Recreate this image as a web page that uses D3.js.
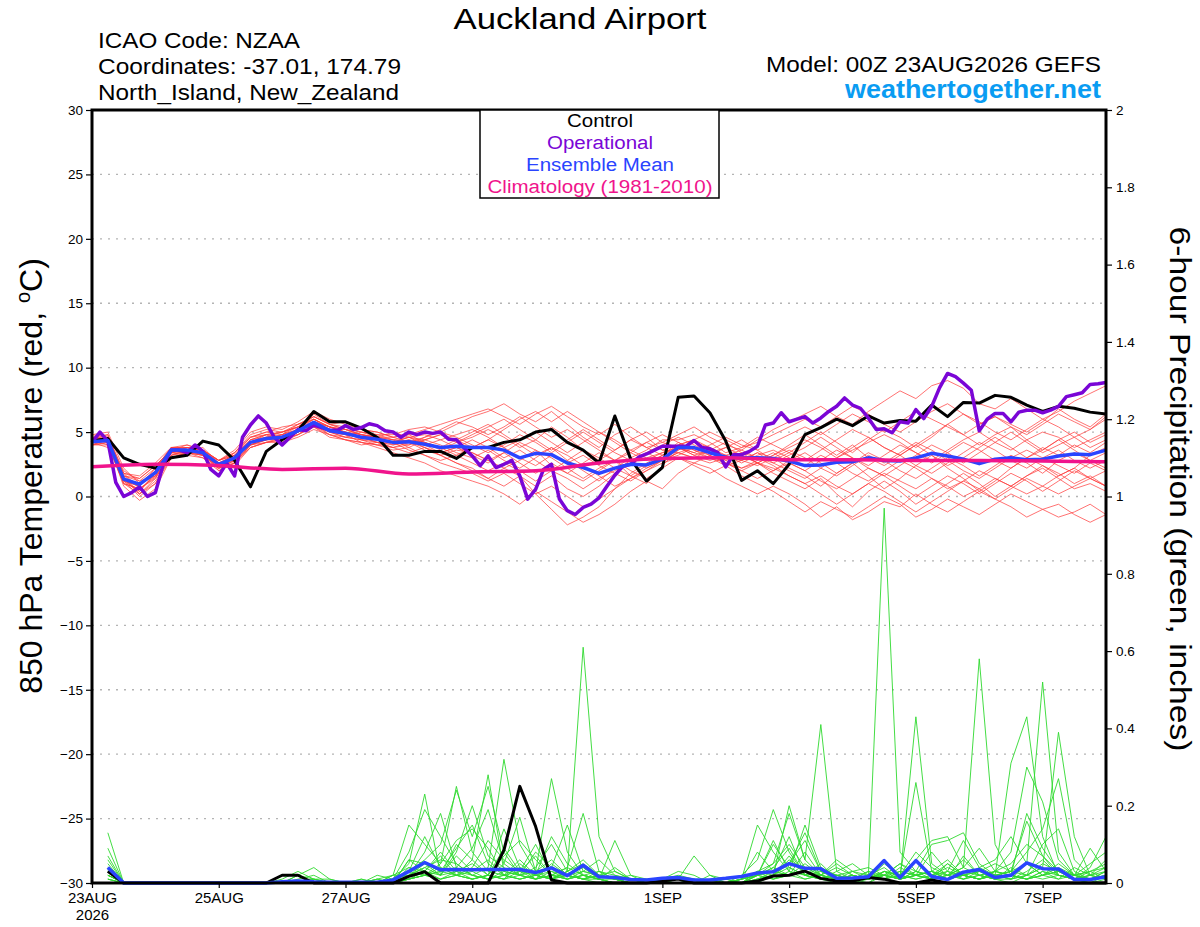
<!DOCTYPE html>
<html>
<head>
<meta charset="utf-8">
<script src="https://cdn.jsdelivr.net/npm/d3@7"></script>
<style>
  body { margin: 0; background: #fff; }
  text { font-family: "Liberation Sans", Arial, Helvetica, sans-serif; }
</style>
</head>
<body>
<div id="canvas"></div>
<script>
// ---- data (6-hourly steps from 00Z 23AUG2026, 0..384 h) ----
const tickDays = ["2026-08-23", "2026-08-25", "2026-08-27", "2026-08-29", "2026-09-01", "2026-09-03", "2026-09-05", "2026-09-07"];
const tickLabels = ["23AUG", "25AUG", "27AUG", "29AUG", "1SEP", "3SEP", "5SEP", "7SEP"];
const tempTicks = [-30, -25, -20, -15, -10, -5, 0, 5, 10, 15, 20, 25, 30];
const precipTicks = [0, 0.2, 0.4, 0.6, 0.8, 1, 1.2, 1.4, 1.6, 1.8, 2];
const legendItems = ["Control", "Operational", "Ensemble Mean", "Climatology (1981-2010)"];

// ensemble members, 850 hPa temperature (65 values each)
const tempMembers = [
  [4.4,4.8,1.8,0.6,1.5,3.4,3.8,3.6,2.8,3.4, 4.6,5.0,5.4,5.6,6.2,5.6,5.8,5.2,5.0,4.6,4.8,5.2,5.6,6.0,6.4, 6.8,6.2,5.6,6.4,7.0,6.2,5.4,4.8,5.6,4.6,3.8,4.2, 4.8,5.4,4.6,4.0,3.6,4.4,5.2,5.8, 6.4,7.0,6.2,5.6,6.6,7.4,8.2,7.6,8.6,9.0,8.4,7.2,6.8,7.6,6.8,6.0,6.6,7.4,8.0,8.6],
  [4.0,4.2,0.8,-0.3,0.6,3.0,3.4,3.2,2.2,2.4, 3.8,4.2,4.4,5.0,5.6,4.8,4.4,4.2,3.8,3.4,3.0,2.6,2.0,1.6,1.2, 0.8,0.2,-0.6,0.4,-0.4,-1.2,-2.0,-1.4,-0.6,0.4,1.2,0.6, 1.8,2.6,2.2,1.4,0.8,0.2,0.8,0.2, -0.6,-1.6,-0.8,-1.8,-1.2,-0.4,-0.8,0.2,-0.6,-1.2,-0.4,0.4,-0.2,-0.8,-1.6,-1.0,-0.6,-1.4,-2.0,-1.4],
  [4.6,4.4,1.2,0.8,2.0,3.8,3.4,3.2,2.6,3.0, 4.0,4.6,4.8,5.2,5.8,5.4,5.0,4.4,4.0,4.2,4.6,4.0,3.4,3.8,3.2, 2.6,3.4,4.2,3.6,2.4,1.8,2.6,3.4,2.8,1.6,1.0,2.4, 3.6,4.2,3.8,3.0,2.8,3.4,3.0,2.2, 1.6,0.8,1.8,2.6,1.6,0.6,1.4,2.4,3.2,2.2,1.4,0.4,1.2,2.2,3.0,2.4,1.6,2.2,3.2,3.8],
  [4.2,3.8,1.6,1.4,2.4,3.6,4.0,3.6,2.0,2.6, 4.4,4.8,4.2,4.8,5.4,5.0,4.6,5.0,4.8,4.4,3.8,4.4,4.8,4.2,4.6, 5.2,4.6,3.8,4.4,5.4,4.6,3.6,2.8,3.6,4.4,3.8,3.2, 4.2,3.6,3.2,3.8,4.4,3.6,2.8,3.4, 4.2,5.0,4.2,3.4,4.4,5.2,4.6,3.8,4.6,5.6,4.8,4.0,4.8,5.4,4.4,3.6,4.4,5.0,4.2,4.8],
  [4.4,4.6,1.0,0.2,1.2,3.2,3.6,3.8,2.6,3.2, 4.2,4.4,4.8,5.4,6.0,5.2,5.0,4.8,4.6,4.0,4.4,3.8,3.2,2.6,2.2, 1.4,0.8,1.6,0.2,-1.0,-2.2,-1.6,-0.8,0.6,1.8,2.6,3.2, 3.8,3.2,3.6,2.8,2.2,2.6,1.8,1.2, 0.6,1.4,0.2,-0.8,0.4,1.2,0.4,-0.6,0.2,1.0,1.8,1.0,0.0,0.8,1.6,2.2,1.4,0.6,1.0,0.4],
  [4.8,5.0,2.2,1.0,1.6,3.8,3.8,3.4,2.4,3.4, 4.8,5.2,5.0,5.4,6.4,5.6,5.2,4.8,4.6,5.0,4.6,4.2,3.8,4.4,5.0, 5.6,4.8,4.0,3.2,3.8,2.8,2.0,1.2,2.2,3.0,3.6,4.4, 4.4,4.8,4.2,3.4,3.8,4.6,4.0,3.4, 2.8,3.6,4.4,5.2,4.6,3.8,3.2,4.0,4.8,5.6,6.4,5.8,5.0,4.4,5.2,6.0,5.4,4.6,5.2,6.2],
  [4.0,4.4,1.4,0.4,1.8,3.4,3.2,3.0,2.2,2.8, 3.8,4.2,4.6,4.8,5.6,5.0,4.8,4.2,4.0,3.8,4.0,4.4,4.0,3.4,3.0, 3.6,2.8,2.2,3.0,3.8,3.2,2.4,1.6,0.8,1.4,2.2,2.8, 3.2,3.8,3.4,2.8,3.2,2.6,2.0,2.8, 3.4,2.6,1.8,2.6,3.4,2.8,2.0,1.4,2.2,3.0,2.4,1.6,2.4,3.2,2.6,1.8,2.8,3.4,2.8,2.2],
  [4.2,4.6,1.2,0.8,2.2,3.8,3.6,3.4,2.8,3.2, 4.4,4.8,5.0,5.6,6.0,5.4,5.2,5.0,4.8,4.8,5.2,5.4,5.0,5.6,6.2, 6.6,7.2,6.4,5.8,6.6,5.6,4.6,3.8,4.8,5.4,4.6,3.6, 3.4,3.0,3.6,4.2,3.4,2.6,3.2,4.0, 4.8,4.0,3.2,4.0,3.0,2.4,3.2,4.0,3.2,2.4,3.0,3.8,4.6,3.8,3.0,3.6,4.4,3.6,2.8,3.4],
  [4.6,4.2,1.6,1.2,1.6,3.6,3.8,3.6,2.4,2.8, 4.0,4.4,4.4,4.8,5.4,4.8,4.6,4.4,4.2,4.0,4.2,3.6,3.2,3.6,3.4, 2.8,2.2,2.8,3.6,3.0,2.2,1.4,2.2,2.8,3.6,3.0,3.4, 3.8,3.2,2.8,3.2,2.6,3.2,3.6,3.0, 2.4,3.2,2.6,1.8,1.2,2.0,2.8,2.2,1.4,0.6,1.2,2.0,1.4,0.8,1.6,2.4,1.8,1.0,1.6,0.8],
  [4.4,4.0,1.0,0.6,1.4,3.4,3.4,3.2,2.4,3.0, 4.2,4.6,4.6,5.0,5.8,5.2,4.8,4.6,4.2,4.2,3.6,3.2,2.6,2.2,1.8, 1.2,1.8,1.0,0.2,0.8,0.0,-0.8,-0.2,0.6,1.4,2.0,2.6, 3.0,2.4,1.8,2.4,1.6,1.0,0.4,-0.4, -1.2,-0.4,-1.0,-1.6,-0.8,0.0,-0.6,-1.6,-1.0,-0.2,-0.8,-1.4,-0.6,0.2,-0.4,-1.0,-1.6,-1.2,-0.6,-1.4],
  [4.2,4.4,1.8,1.6,2.6,3.8,3.6,3.4,2.6,2.6, 3.8,4.2,4.4,5.0,5.8,5.4,5.0,4.6,4.6,4.4,4.6,4.8,4.4,4.8,5.2, 4.6,3.8,4.4,5.0,4.2,3.4,4.2,5.0,4.4,3.6,4.2,4.8, 4.2,3.6,3.0,2.6,2.2,2.8,3.4,2.6, 2.0,2.8,3.6,3.0,2.2,1.6,2.4,3.2,4.0,3.4,2.6,3.4,4.2,5.0,4.2,3.4,4.0,4.6,3.8,4.4],
  [4.6,4.8,1.4,0.2,1.0,3.2,3.6,3.6,2.8,3.6, 5.0,5.4,5.2,5.8,6.6,6.0,5.6,5.2,5.0,4.6,4.2,4.6,5.2,5.8,5.4, 4.8,5.4,6.2,5.4,4.6,5.2,4.4,3.6,2.8,3.4,4.2,3.6, 4.0,4.4,5.0,4.4,3.8,4.2,4.8,5.4, 6.0,5.4,6.2,7.0,6.4,5.6,5.0,5.8,6.6,7.2,6.4,5.6,6.2,5.4,4.8,5.6,6.4,5.8,5.2,6.0],
  [4.0,4.2,1.2,0.0,1.0,3.0,3.4,3.0,2.0,2.6, 4.0,4.4,4.6,5.0,5.4,4.6,4.4,4.0,4.2,3.8,3.4,3.8,3.2,2.6,2.0, 1.4,2.2,1.6,0.8,1.6,0.6,0.0,0.8,1.8,1.2,2.0,2.8, 3.4,3.0,2.6,3.0,3.4,3.0,2.4,1.6, 1.0,0.2,-0.6,0.2,1.0,0.4,-0.4,-1.2,-0.4,0.4,1.2,0.6,-0.2,0.6,1.4,0.8,0.2,0.8,1.4,0.8],
  [4.4,4.2,1.4,1.0,2.0,3.6,3.4,3.4,2.6,3.0, 4.2,4.4,4.8,5.2,5.6,5.0,4.6,4.4,4.4,4.2,4.4,4.2,3.8,3.2,3.8, 4.4,3.8,3.0,2.4,3.2,2.6,3.2,2.4,1.8,2.6,3.4,2.8, 3.6,4.2,3.6,3.2,3.6,3.0,2.6,3.2, 3.8,4.6,3.8,3.0,2.4,3.2,4.0,3.4,2.6,3.4,4.2,3.6,2.8,2.2,3.0,3.8,3.2,4.0,3.4,4.2],
  [4.6,4.6,1.6,0.8,2.0,3.8,3.8,3.6,2.6,3.2, 4.6,4.8,4.6,5.2,6.0,5.4,5.2,4.8,4.4,4.2,4.6,4.4,4.8,4.4,3.8, 4.4,5.2,6.0,6.6,5.8,6.6,5.8,5.0,4.2,3.4,2.8,3.4, 3.8,3.4,3.0,2.4,2.8,3.4,2.6,2.0, 1.4,2.2,3.0,3.8,4.6,3.8,3.2,2.4,1.8,2.6,3.4,4.2,3.6,2.8,2.2,3.0,3.6,2.8,2.2,2.8],
  [4.2,4.4,1.2,0.4,1.8,3.4,3.6,3.2,2.4,3.0, 4.0,4.4,4.6,5.0,5.8,5.0,4.8,4.6,4.2,3.8,4.2,3.8,3.4,3.8,4.4, 3.8,3.0,3.6,2.8,2.0,2.8,3.6,3.0,2.2,1.6,2.4,3.2, 4.0,4.4,3.8,3.2,2.8,2.4,3.0,3.6, 3.0,2.2,1.6,2.4,3.2,2.6,3.4,4.2,3.6,2.8,2.0,1.4,2.2,3.0,3.6,3.0,2.4,1.8,2.6,2.0],
  [4.8,4.6,2.0,1.2,2.2,3.8,4.0,3.6,2.8,3.4, 4.6,5.0,4.8,5.6,6.2,5.6,5.4,5.0,4.6,4.6,4.8,4.2,3.6,4.2,4.8, 5.4,6.0,5.2,4.4,3.6,4.4,5.2,4.4,3.6,4.4,5.0,4.2, 3.8,3.4,4.0,4.6,4.0,3.6,4.2,4.8, 5.4,4.8,5.6,6.4,5.8,5.0,5.8,6.6,6.0,5.4,4.8,5.6,6.2,5.6,5.0,5.8,6.8,6.0,5.4,6.4],
  [4.0,4.0,1.0,0.6,1.6,3.2,3.4,3.4,2.2,2.6, 4.0,4.2,4.2,4.6,5.2,4.8,4.4,4.2,4.0,3.6,3.8,3.2,2.8,3.2,2.6, 2.0,2.6,2.0,1.2,2.0,1.4,0.6,1.4,2.0,2.8,2.2,2.8, 3.4,3.8,3.2,2.6,2.0,2.6,2.2,1.6, 1.0,1.6,0.8,0.2,1.0,1.8,1.2,0.6,1.4,0.8,0.0,0.6,1.4,0.8,0.2,0.8,1.6,2.2,1.4,0.8],
  [4.4,4.4,1.8,1.4,2.4,3.6,3.6,3.2,2.2,2.8, 4.2,4.8,5.0,5.4,6.0,5.4,5.0,4.8,4.6,4.2,4.0,4.6,5.0,4.6,4.0, 3.4,4.0,4.8,4.2,3.4,4.2,5.0,4.2,3.4,2.8,3.4,4.0, 4.6,4.0,3.4,3.8,3.2,2.6,3.2,3.8, 4.4,3.8,3.0,3.6,4.2,4.8,4.2,3.4,2.8,3.6,4.4,5.0,4.2,3.6,4.4,5.0,4.6,3.8,4.4,5.0],
  [4.2,4.6,1.4,0.2,1.4,3.4,3.8,3.6,2.8,3.2, 4.4,4.6,5.0,5.4,6.2,5.6,5.2,4.8,4.6,4.4,4.2,4.0,4.4,3.8,3.4, 2.8,3.4,2.6,1.8,2.6,1.8,1.2,2.0,2.8,2.0,1.4,2.2, 3.0,2.6,3.2,2.6,2.0,1.4,2.0,2.6, 2.0,1.2,0.6,1.4,2.2,1.6,0.8,0.0,0.8,1.6,1.0,0.2,1.0,1.8,1.2,0.4,1.2,2.0,1.4,2.0]
];

const tempControl = [4.3,4.5,3.0,2.5,2.2,3.0,3.2,4.3,4.0,2.8, 0.75,3.5,4.4,5.1,6.6,5.8,5.8,5.3,4.6,3.2, 3.2,3.5,3.5,2.95,3.8,3.8,4.2,4.4,5.0,5.2, 4.2,3.6,2.6,6.25,2.9,1.2,2.25,7.7,7.8,6.5, 4.3,1.25,2.0,1.0,2.5,4.8,5.35,6.0,5.5,6.25, 5.7,5.9,5.85,7.1,6.2,7.3,7.25,7.85,7.7,7.1, 6.6,7.0,6.85,6.55,6.4];

const tempMean = [4.25,4.35,1.35,0.95,1.85,3.6,3.6,3.4,2.5,3.0, 4.2,4.5,4.6,5.1,5.75,5.1,4.9,4.6,4.45,4.2, 4.25,4.05,3.8,3.9,3.8,3.8,3.6,3.0,3.35,3.25, 2.6,2.25,1.8,2.2,2.5,2.45,2.9,3.8,3.8,3.4, 3.05,3.0,3.0,2.95,2.75,2.4,2.45,2.65,2.7,3.0, 2.8,2.75,3.0,3.35,3.15,2.9,2.55,2.9,3.0,2.85, 2.9,3.15,3.3,3.25,3.6];

// operational run, 3-hourly (129 values)
const tempOperational = [4.2,5.0,4.3,1.1,0.0,0.3,0.75,0.0,0.3,2.5, 3.6,3.6,3.4,4.0,3.5,2.1,1.6,2.6,1.6,4.6, 5.55,6.25,5.7,4.6,4.0,4.6,5.2,5.1,5.55,5.35, 5.15,5.15,5.5,5.2,5.35,5.65,5.5,5.1,5.0,4.6, 5.0,4.8,5.0,4.9,5.0,4.45,4.4,3.75,3.15,2.4, 3.15,2.25,2.5,2.8,1.6,-0.2,0.55,2.1,2.5,-0.2, -1.1,-1.4,-0.85,-0.6,-0.1,0.8,1.65,2.35,2.5,3.05, 3.3,3.6,3.9,3.9,3.9,3.9,4.35,3.8,3.7,3.4, 2.3,3.25,3.25,3.5,3.9,5.55,5.7,6.5,5.8,6.0, 6.2,5.7,6.1,6.6,7.0,7.65,7.1,6.85,6.1,5.2, 5.25,4.95,5.8,5.7,6.75,6.05,7.0,8.45,9.55,9.3, 8.8,8.25,5.1,6.0,6.45,6.45,5.8,6.55,6.7,6.7, 6.5,6.7,7.0,7.75,7.9,8.05,8.7,8.75,8.85];

// climatology, one value per day (17 values)
const tempClimatology = [2.3,2.5,2.4,2.1,2.2,1.75,1.9,2.0,2.6,2.95,3.0,2.85,2.85,2.8,2.8,2.75,2.7];

// 6-hour precipitation, ending at +6h .. +384h (64 values each)
const precipMembers = [
  [0.13,0,0,0,0,0,0,0, 0,0,0,0.01,0.03,0.01,0,0, 0,0,0.01,0.08,0.19,0.12,0.05,0.02, 0.04,0.32,0.10,0.03,0.01,0.02,0.04,0.01, 0,0,0,0.01,0.02,0.01,0,0, 0,0.02,0.05,0.10,0.04,0.02,0.01,0, 0.02,0.97,0.08,0.03,0.01,0.02,0.04,0.02, 0.01,0,0.02,0.05,0.03,0.01,0,0.02],
  [0.09,0,0,0,0,0,0,0, 0,0,0,0,0.02,0.04,0.01,0, 0,0.01,0.02,0.15,0.10,0.05,0.25,0.08, 0.03,0.02,0.06,0.02,0.01,0.03,0.61,0.12, 0.03,0.01,0,0,0,0.01,0,0, 0.01,0.03,0.02,0.06,0.03,0.01,0,0, 0.01,0.03,0.02,0.06,0.11,0.12,0.04,0.58, 0.10,0.02,0.01,0.03,0.02,0.01,0.04,0.12],
  [0.07,0,0,0,0,0,0,0, 0,0,0,0,0.01,0.02,0,0, 0,0.02,0.01,0.05,0.23,0.02,0.07,0.03, 0.01,0.05,0.17,0.03,0.27,0.08,0.02,0.01, 0.11,0.02,0,0,0.01,0.07,0.02,0, 0,0.01,0.02,0.20,0.06,0.41,0.03,0.01, 0,0.02,0.01,0.43,0.05,0.02,0.01,0.03, 0.02,0.01,0.05,0.52,0.08,0.02,0.01,0.03],
  [0.05,0,0,0,0,0,0,0, 0,0,0,0,0,0.01,0.01,0, 0,0,0.01,0.03,0.06,0.10,0.24,0.12, 0.25,0.08,0.02,0.01,0.03,0.02,0.01,0.03, 0.02,0.01,0,0,0,0,0.01,0, 0.01,0.15,0.08,0.03,0.02,0.01,0.02,0.01, 0.03,0.02,0.01,0.02,0.01,0.05,0.02,0.01, 0.02,0.31,0.43,0.12,0.02,0.01,0,0.01],
  [0.04,0,0,0,0,0,0,0, 0,0,0,0,0,0,0,0, 0,0,0.02,0.02,0.08,0.18,0.04,0.02, 0.01,0.03,0.02,0.08,0.04,0.15,0.03,0.02, 0.01,0,0,0,0,0,0,0, 0.02,0.06,0.19,0.08,0.02,0.04,0.02,0.01, 0.01,0.02,0.05,0.03,0.10,0.11,0.13,0.05, 0.02,0.01,0.02,0.04,0.39,0.12,0.02,0.01],
  [0.03,0,0,0,0,0,0,0, 0,0,0,0,0,0,0,0, 0,0,0,0.06,0.05,0.02,0.08,0.20, 0.07,0.04,0.02,0.01,0.05,0.02,0.01,0, 0,0,0,0.01,0.01,0,0,0, 0,0.01,0.03,0.12,0.02,0.05,0.01,0.02, 0.01,0.05,0.02,0.26,0.03,0.01,0.02,0.01, 0.03,0.05,0.10,0.07,0.03,0.02,0.05,0.08],
  [0.02,0,0,0,0,0,0,0, 0,0,0,0,0,0,0,0, 0.01,0,0.01,0.02,0.04,0.02,0.10,0.06, 0.28,0.03,0.02,0.04,0.10,0.03,0.05,0.02, 0.01,0.01,0,0,0,0,0.02,0.01, 0,0.02,0.01,0.03,0.15,0.04,0.01,0, 0.02,0.01,0.04,0.02,0.03,0.01,0.02,0.03, 0.01,0.04,0.02,0.10,0.14,0.03,0.01,0.02],
  [0.01,0,0,0,0,0,0,0, 0,0,0,0,0,0,0,0, 0,0,0,0.01,0.03,0.07,0.02,0.06, 0.02,0.14,0.04,0.02,0.01,0.03,0.06,0.02, 0.01,0,0,0,0,0.01,0,0, 0.01,0.02,0.04,0.02,0.08,0.02,0.01,0, 0,0.03,0.01,0.02,0.01,0.03,0.11,0.04, 0.02,0.01,0.03,0.06,0.02,0.01,0.02,0.01],
  [0.02,0,0,0,0,0,0,0, 0,0,0,0,0,0,0,0, 0,0.01,0,0.03,0.02,0.05,0.11,0.14, 0.09,0.02,0.01,0.02,0.04,0.02,0.01,0.02, 0.03,0.01,0.01,0,0,0,0,0.01, 0,0,0.02,0.05,0.11,0.03,0.02,0.01, 0.03,0.01,0.02,0.08,0.04,0.02,0.03,0.02, 0.01,0.02,0.18,0.09,0.03,0.01,0.02,0.04],
  [0,0,0,0,0,0,0,0, 0,0,0,0,0,0.01,0,0, 0,0,0,0.01,0.02,0.03,0.04,0.09, 0.19,0.05,0.02,0.01,0.02,0.01,0.03,0.06, 0.02,0.01,0,0,0.01,0,0,0, 0,0.03,0.01,0.02,0.03,0.02,0.04,0.02, 0.01,0.02,0.01,0.03,0.02,0.04,0.02,0.01, 0.02,0.03,0.05,0.02,0.04,0.02,0.01,0.03],
  [0.01,0,0,0,0,0,0,0, 0,0,0,0,0,0,0,0, 0,0,0,0.02,0.05,0.03,0.02,0.04, 0.11,0.06,0.03,0.10,0.02,0.01,0.02,0.01, 0.04,0.01,0,0,0,0,0,0, 0,0.01,0.02,0.04,0.02,0.01,0.03,0.05, 0.02,0.01,0.02,0.01,0.02,0.05,0.02,0.01, 0.03,0.02,0.01,0.02,0.05,0.02,0.03,0.05],
  [0.03,0,0,0,0,0,0,0, 0,0,0,0,0.02,0.01,0,0, 0,0,0.02,0.04,0.03,0.02,0.03,0.01, 0.02,0.07,0.11,0.06,0.02,0.04,0.02,0.01, 0.01,0.02,0.01,0,0,0,0,0, 0.01,0.02,0.11,0.03,0.01,0.02,0.01,0.03, 0.01,0.02,0.05,0.02,0.01,0.02,0.01,0.02, 0.01,0.01,0.02,0.04,0.02,0.01,0.01,0.02],
  [0.06,0,0,0,0,0,0,0, 0,0,0,0,0,0,0,0, 0,0.01,0,0.02,0.04,0.06,0.05,0.02, 0.01,0.02,0.04,0.01,0.02,0.02,0.01,0.01, 0,0,0,0,0,0,0,0, 0,0.02,0.03,0.02,0.05,0.02,0.06,0.03, 0.02,0.01,0.03,0.02,0.01,0.02,0.06,0.02, 0.01,0.02,0.01,0.03,0.01,0.02,0.03,0.01],
  [0.02,0,0,0,0,0,0,0, 0,0,0,0,0,0,0,0, 0,0,0.01,0.01,0.02,0.04,0.02,0.01, 0.02,0.01,0.02,0.03,0.06,0.02,0.01,0.02, 0.01,0,0,0.01,0.03,0.02,0,0, 0,0.01,0.02,0.07,0.02,0.01,0.02,0.01, 0.02,0.04,0.01,0.02,0.03,0.01,0.02,0.01, 0.02,0.03,0.02,0.01,0.02,0.01,0.02,0.06],
  [0.04,0,0,0,0,0,0,0, 0,0,0,0,0,0,0,0, 0.01,0,0,0.01,0.02,0.01,0.03,0.05, 0.02,0.01,0.03,0.02,0.01,0.02,0.03,0.02, 0.01,0,0,0,0,0,0,0, 0.01,0.02,0.01,0.02,0.03,0.02,0.01,0.02, 0.01,0.03,0.02,0.01,0.02,0.03,0.01,0.02, 0.03,0.02,0.01,0.02,0.03,0.02,0.01,0.02],
  [0,0,0,0,0,0,0,0, 0,0,0,0,0,0,0,0, 0,0,0,0.06,0.03,0.01,0.02,0.01, 0.02,0.01,0.05,0.02,0.12,0.05,0.02,0.01, 0,0,0,0,0,0,0,0, 0,0.02,0.04,0.09,0.02,0.03,0.01,0.02, 0.01,0.02,0.01,0.03,0.02,0.01,0.07,0.02, 0.03,0.08,0.30,0.21,0.06,0.02,0.01,0.02],
  [0.01,0,0,0,0,0,0,0, 0,0,0,0,0,0,0,0, 0,0,0,0.01,0.02,0.03,0.09,0.15, 0.05,0.02,0.01,0.02,0.03,0.01,0.02,0.01, 0,0,0,0,0,0,0,0, 0.01,0.02,0.03,0.05,0.13,0.03,0.02,0.01, 0.02,0.02,0.03,0.02,0.08,0.03,0.02,0.04, 0.06,0.12,0.05,0.02,0.01,0.04,0.02,0.01],
  [0.02,0,0,0,0,0,0,0, 0,0,0,0,0,0,0,0, 0,0,0.01,0.03,0.12,0.04,0.02,0.01, 0.02,0.09,0.03,0.01,0.02,0.01,0.02,0.03, 0.01,0,0,0,0,0,0,0, 0,0.03,0.05,0.18,0.06,0.02,0.01,0.02, 0.01,0.03,0.02,0.06,0.02,0.01,0.02,0.03, 0.05,0.03,0.08,0.14,0.27,0.06,0.02,0.03],
  [0,0,0,0,0,0,0,0, 0,0,0,0,0,0,0,0, 0,0,0,0.02,0.03,0.08,0.03,0.02, 0.01,0.02,0.03,0.07,0.02,0.04,0.18,0.03, 0.01,0,0,0,0,0,0,0, 0.01,0.08,0.03,0.02,0.01,0.02,0.05,0.02, 0.01,0.02,0.01,0.02,0.03,0.02,0.04,0.09, 0.03,0.02,0.01,0.02,0.03,0.02,0.09,0.03],
  [0.03,0,0,0,0,0,0,0, 0,0,0,0,0,0,0,0, 0,0,0,0.04,0.02,0.01,0.02,0.03, 0.06,0.02,0.01,0.02,0.01,0.03,0.01,0.02, 0.01,0,0,0,0,0,0,0, 0,0.02,0.10,0.04,0.02,0.01,0.02,0.03, 0.04,0.02,0.01,0.02,0.03,0.06,0.02,0.01, 0.02,0.03,0.16,0.07,0.02,0.01,0.03,0.04]
];

const precipControl = [0.03,0,0,0,0,0,0,0, 0,0,0,0.02,0.02,0,0,0, 0,0,0,0.017,0.029,0,0,0, 0,0.085,0.25,0.146,0.008,0,0,0, 0,0,0,0.005,0.01,0,0,0, 0,0.005,0.018,0.02,0.031,0.012,0.005,0.005, 0.014,0.01,0,0,0.008,0,0,0, 0,0,0,0,0,0,0,0];

const precipMean = [0.04,0,0,0,0,0,0,0, 0,0,0,0.003,0.005,0.003,0.002,0.002, 0.002,0.002,0.008,0.03,0.053,0.034,0.035,0.034, 0.035,0.035,0.035,0.027,0.039,0.019,0.046,0.016, 0.014,0.009,0.008,0.012,0.014,0.008,0.008,0.012, 0.017,0.026,0.029,0.05,0.038,0.037,0.012,0.013, 0.016,0.058,0.014,0.058,0.017,0.009,0.028,0.035, 0.014,0.02,0.052,0.037,0.036,0.009,0.009,0.016];

// ---- chart ----
const canvas = d3.select("#canvas");

const width = 1200;
const height = 927;
const margin = { top: 110, left: 92, bottom: 44, right: 94 };
const iwidth = width - margin.left - margin.right;
const iheight = height - margin.top - margin.bottom;

const colors = {
  member: "#ff3b3b",
  precip: "#2fd92f",
  control: "#000000",
  operational: "#7a05d6",
  mean: "#2a44ff",
  climatology: "#f0148c",
  site: "#0a9cf2"
};
const legendColors = [colors.control, colors.operational, colors.mean, colors.climatology];
const legendWidths = [66, 106, 148, 225];

const svg = canvas.append("svg").attr("width", width).attr("height", height);

const x = d3.scaleLinear().domain([0, 384]).range([0, iwidth]);
const xDate = d3
  .scaleUtc()
  .domain([new Date(Date.UTC(2026, 7, 23)), new Date(Date.UTC(2026, 8, 8))])
  .range([0, iwidth]);
const yT = d3.scaleLinear().domain([-30, 30]).range([iheight, 0]);
const yP = d3.scaleLinear().domain([0, 2]).range([iheight, 0]);

const g = svg.append("g").attr("transform", `translate(${margin.left},${margin.top})`);

// dotted grid at the temperature ticks
g.append("g")
  .selectAll("line")
  .data(tempTicks.filter((d) => d > -30 && d < 30))
  .enter()
  .append("line")
  .attr("x1", 0)
  .attr("x2", iwidth)
  .attr("y1", (d) => yT(d))
  .attr("y2", (d) => yT(d))
  .attr("stroke", "#b4b4b4")
  .attr("stroke-width", 1.3)
  .attr("stroke-dasharray", "2,6");

const lineT = (step) =>
  d3.line().x((d, i) => x(i * step)).y((d) => yT(d));
const lineP = d3.line().x((d, i) => x((i + 1) * 6)).y((d) => yP(d));

// precipitation members
g.append("g")
  .selectAll("path")
  .data(precipMembers)
  .enter()
  .append("path")
  .attr("d", lineP)
  .attr("fill", "none")
  .attr("stroke", colors.precip)
  .attr("stroke-width", 0.9);

// temperature members
g.append("g")
  .selectAll("path")
  .data(tempMembers)
  .enter()
  .append("path")
  .attr("d", lineT(6))
  .attr("fill", "none")
  .attr("stroke", colors.member)
  .attr("stroke-opacity", 0.8)
  .attr("stroke-width", 0.9);

const thick = (data, gen, color, w) =>
  g.append("path")
    .datum(data)
    .attr("d", gen)
    .attr("fill", "none")
    .attr("stroke", color)
    .attr("stroke-width", w)
    .attr("stroke-linejoin", "round");

thick(precipControl, lineP, colors.control, 3);
thick(precipMean, lineP, colors.mean, 3.5);
thick(tempControl, lineT(6), colors.control, 3);
thick(tempOperational, lineT(3), colors.operational, 3.5);
thick(tempMean, lineT(6), colors.mean, 3.5);
thick(tempClimatology, lineT(24).curve(d3.curveMonotoneX), colors.climatology, 3.5);

// axes
const leftAxis = g.append("g")
  .call(d3.axisLeft(yT).tickValues(tempTicks).tickSize(6).tickPadding(3));
const rightAxis = g.append("g")
  .attr("transform", `translate(${iwidth},0)`)
  .call(d3.axisRight(yP).tickValues(precipTicks).tickSize(6).tickPadding(4).tickFormat(d3.format("~g")));
const bottomAxis = g.append("g")
  .attr("transform", `translate(0,${iheight})`)
  .call(
    d3.axisBottom(xDate)
      .tickValues(tickDays.map((s) => new Date(s + "T00:00:00Z")))
      .tickSize(5)
      .tickPadding(4)
      .tickFormat((d, i) => tickLabels[i])
  );

[leftAxis, rightAxis, bottomAxis].forEach((a) => {
  a.select(".domain").remove();
  a.selectAll("line").attr("stroke", "#000").attr("stroke-width", 1.2);
  a.selectAll("text").attr("fill", "#000").style("font-family", '"Liberation Sans", Arial, sans-serif');
});
leftAxis.selectAll("text").attr("font-size", 13.5);
rightAxis.selectAll("text").attr("font-size", 13.5);
bottomAxis.selectAll("text").attr("font-size", 15);
bottomAxis
  .select(".tick")
  .append("text")
  .attr("y", 9)
  .attr("dy", "1.85em")
  .attr("fill", "#000")
  .attr("font-size", 15)
  .attr("text-anchor", "middle")
  .text("2026");

// frame
g.append("rect")
  .attr("width", iwidth)
  .attr("height", iheight)
  .attr("fill", "none")
  .attr("stroke", "#000")
  .attr("stroke-width", 3);

// legend
const legend = svg.append("g").attr("transform", "translate(480,110)");
legend.append("rect")
  .attr("width", 239)
  .attr("height", 88)
  .attr("fill", "#fff")
  .attr("stroke", "#000")
  .attr("stroke-width", 1.5);
legend.selectAll("text")
  .data(legendItems)
  .enter()
  .append("text")
  .attr("x", 120)
  .attr("y", (d, i) => 17 + i * 21.9)
  .attr("text-anchor", "middle")
  .attr("font-size", 18)
  .attr("textLength", (d, i) => legendWidths[i])
  .attr("lengthAdjust", "spacingAndGlyphs")
  .attr("fill", (d, i) => legendColors[i])
  .text((d) => d);

// header text
const label = (txt, px, py, size, len, anchor) =>
  svg.append("text")
    .attr("x", px).attr("y", py)
    .attr("text-anchor", anchor)
    .attr("font-size", size)
    .attr("textLength", len)
    .attr("lengthAdjust", "spacingAndGlyphs")
    .text(txt);

label("Auckland Airport", 580, 28.5, 29.5, 253, "middle");

const info = ["ICAO Code: NZAA", "Coordinates: -37.01, 174.79", "North_Island, New_Zealand"];
const infoWidths = [202, 303, 301];
info.forEach((t, i) => label(t, 98, 48 + i * 26, 22, infoWidths[i], "start"));

label("Model: 00Z 23AUG2026 GEFS", 1101, 72, 22, 335, "end");
label("weathertogether.net", 1101, 98, 25, 256, "end")
  .attr("font-weight", "bold")
  .attr("fill", colors.site);

// axis titles
const yl = svg.append("text")
  .attr("transform", "translate(42,476) rotate(-90)")
  .attr("text-anchor", "middle")
  .attr("font-size", 32);
yl.append("tspan").text("850 hPa Temperature (red, ");
yl.append("tspan").attr("font-size", 20).attr("dy", -12).text("o");
yl.append("tspan").attr("dy", 12).text("C)");

svg.append("text")
  .attr("transform", "translate(1170,489) rotate(90)")
  .attr("text-anchor", "middle")
  .attr("font-size", 29)
  .attr("textLength", 525)
  .attr("lengthAdjust", "spacingAndGlyphs")
  .text("6-hour Precipitation (green, inches)");
</script>
</body>
</html>
